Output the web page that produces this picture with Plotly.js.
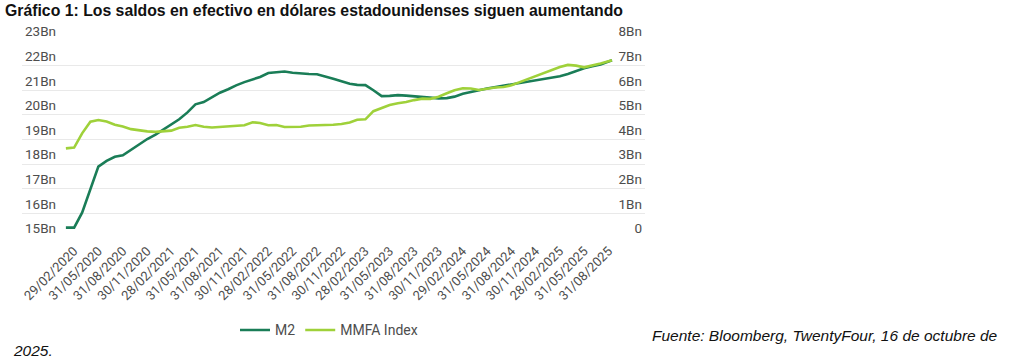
<!DOCTYPE html>
<html>
<head>
<meta charset="utf-8">
<script src="https://cdn.plot.ly/plotly-3.0.1.min.js"></script>
<style>
html,body{margin:0;padding:0;background:#fff;}
#chart{width:1024px;height:361px;}
</style>
</head>
<body>
<div id="chart"></div>
<script>
const dates = [
 '2020-02-29','2020-03-31','2020-04-30','2020-05-31','2020-06-30','2020-07-31','2020-08-31','2020-09-30','2020-10-31','2020-11-30','2020-12-31',
 '2021-01-31','2021-02-28','2021-03-31','2021-04-30','2021-05-31','2021-06-30','2021-07-31','2021-08-31','2021-09-30','2021-10-31','2021-11-30','2021-12-31',
 '2022-01-31','2022-02-28','2022-03-31','2022-04-30','2022-05-31','2022-06-30','2022-07-31','2022-08-31','2022-09-30','2022-10-31','2022-11-30','2022-12-31',
 '2023-01-31','2023-02-28','2023-03-31','2023-04-30','2023-05-31','2023-06-30','2023-07-31','2023-08-31','2023-09-30','2023-10-31','2023-11-30','2023-12-31',
 '2024-01-31','2024-02-29','2024-03-31','2024-04-30','2024-05-31','2024-06-30','2024-07-31','2024-08-31','2024-09-30','2024-10-31','2024-11-30','2024-12-31',
 '2025-01-31','2025-02-28','2025-03-31','2025-04-30','2025-05-31','2025-06-30','2025-07-31','2025-08-31','2025-09-30','2025-10-13'
];
const m2 = [15.42,15.42,16.03,16.95,17.9,18.13,18.3,18.36,18.58,18.78,19.02,19.2,19.4,19.63,19.82,20.1,20.43,20.52,20.7,20.9,21.04,21.2,21.33,
 21.43,21.54,21.7,21.73,21.76,21.71,21.67,21.66,21.65,21.57,
 21.47,21.37,21.26,21.22,21.21,21.0,20.76,20.77,20.8,20.78,
 20.76,20.74,20.7,20.67,20.68,20.74,20.86,20.94,21.0,21.07,
 21.13,21.16,21.22,21.3,21.35,21.41,21.46,21.52,21.57,21.66,
 21.78,21.89,21.97,22.05,22.17,22.22];
const mmfa = [3.64,3.67,4.25,4.72,4.79,4.73,4.6,4.53,4.42,4.37,4.33,4.31,4.32,4.36,4.48,4.52,4.59,4.52,4.49,4.51,4.52,4.55,4.58,
 4.7,4.67,4.58,4.59,4.51,4.51,4.52,4.57,4.57,4.57,
 4.6,4.63,4.69,4.8,4.82,5.15,5.29,5.4,5.47,5.52,
 5.6,5.66,5.65,5.74,5.88,6.0,6.08,6.07,6.01,6.07,
 6.11,6.13,6.2,6.33,6.45,6.57,6.7,6.82,6.94,7.03,
 7.0,6.93,7.0,7.09,7.18,7.22];
const tickDates = ['2020-02-29','2020-05-31','2020-08-31','2020-11-30','2021-02-28','2021-05-31','2021-08-31','2021-11-30',
 '2022-02-28','2022-05-31','2022-08-31','2022-11-30','2023-02-28','2023-05-31','2023-08-31','2023-11-30',
 '2024-02-29','2024-05-31','2024-08-31','2024-11-30','2025-02-28','2025-05-31','2025-08-31'];
const tickLabels = ['29/02/2020','31/05/2020','31/08/2020','30/11/2020','28/02/2021','31/05/2021','31/08/2021','30/11/2021',
 '28/02/2022','31/05/2022','31/08/2022','30/11/2022','28/02/2023','31/05/2023','31/08/2023','30/11/2023',
 '29/02/2024','31/05/2024','31/08/2024','30/11/2024','28/02/2025','31/05/2025','31/08/2025'];
const leftTicks = [15,16,17,18,19,20,21,22,23];
const leftLabels = ['15Bn','16Bn','17Bn','18Bn','19Bn','20Bn','21Bn','22Bn','23Bn'];
const rightTicks = [0,1,2,3,4,5,6,7,8];
const rightLabels = ['0','1Bn','2Bn','3Bn','4Bn','5Bn','6Bn','7Bn','8Bn'];
const titleText = 'Gráfico 1: Los saldos en efectivo en dólares estadounidenses siguen aumentando';
const sourceText = 'Fuente: Bloomberg, TwentyFour, 16 de octubre de';
const sourceText2 = '2025.';

const C_M2 = '#1a7d57';
const C_MMFA = '#9fd13a';
const tickFont = {family: 'Roboto, sans-serif', size: 13.5, color: '#4d4d4d'};

const traces = [
  {x: dates, y: m2, name: 'M2', type: 'scatter', mode: 'lines', line: {color: C_M2, width: 2.6}, yaxis: 'y'},
  {x: dates, y: mmfa, name: 'MMFA Index', type: 'scatter', mode: 'lines', line: {color: C_MMFA, width: 2.6}, yaxis: 'y2'}
];

const L = 22, R = 645, T = 40.7, B = 238.3;
const W = 1024, H = 361;
const px = v => (v - L) / (R - L);
const py = v => (B - v) / (B - T);

const layout = {
  width: W, height: H,
  margin: {l: L, r: W - R, t: T, b: H - B, pad: 0},
  paper_bgcolor: '#ffffff', plot_bgcolor: '#ffffff',
  showlegend: true,
  title: {text: '<b>' + titleText + '</b>', font: {family: 'Liberation Sans, Arial, sans-serif', size: 15.8, color: '#111'},
          x: 5 / W, xanchor: 'left', xref: 'container', y: 1 - 10 / H, yanchor: 'middle', yref: 'container'},
  xaxis: {type: 'date', range: ['2019-09-17', '2026-02-14'], tickvals: tickDates, ticktext: tickLabels,
          tickangle: -45, tickfont: {family: 'Roboto, sans-serif', size: 13, color: '#4d4d4d'},
          ticklabelshift: 8, ticklabelstandoff: 2,
          showgrid: false, zeroline: false, showline: false, ticks: '', fixedrange: true},
  yaxis: {range: [15, 23], tickvals: leftTicks, ticktext: leftLabels, tickfont: tickFont,
          ticklabelposition: 'inside top', ticklabeloverflow: 'allow',
          showgrid: true, gridcolor: '#e9e9e9', gridwidth: 1, zeroline: false, showline: false, ticks: ''},
  yaxis2: {range: [0, 8], tickvals: rightTicks, ticktext: rightLabels, tickfont: tickFont, overlaying: 'y', side: 'right',
          ticklabelposition: 'inside top', ticklabeloverflow: 'allow',
          showgrid: false, zeroline: false, showline: false, ticks: ''},
  legend: {orientation: 'h', x: px(235), xanchor: 'left', y: py(331), yanchor: 'middle',
           font: {family: 'Roboto, sans-serif', size: 14, color: '#4d4d4d'}, bgcolor: 'rgba(0,0,0,0)'},
  annotations: [
    {text: '<i>' + sourceText + '</i>', xref: 'paper', yref: 'paper', x: px(650), y: py(336), xanchor: 'left', yanchor: 'middle',
     showarrow: false, font: {family: 'Liberation Sans, Arial, sans-serif', size: 15.5, color: '#111'}},
    {text: '<i>' + sourceText2 + '</i>', xref: 'paper', yref: 'paper', x: px(11), y: py(351), xanchor: 'left', yanchor: 'middle',
     showarrow: false, font: {family: 'Liberation Sans, Arial, sans-serif', size: 15.5, color: '#111'}}
  ]
};

Plotly.newPlot('chart', traces, layout, {displayModeBar: false, staticPlot: true});
</script>
</body>
</html>
